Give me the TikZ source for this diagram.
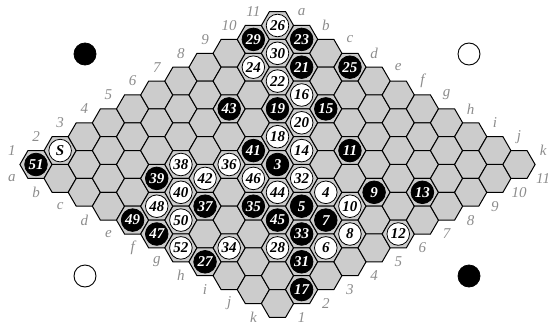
\documentclass[tikz,border=0pt]{standalone}
\usepackage{fontspec}
\setmainfont{Liberation Serif}
\usetikzlibrary{calc}
\definecolor{cellgray}{RGB}{204,204,204}
\definecolor{labgray}{RGB}{140,140,140}
\tikzset{
  hexcell/.style={fill=cellgray, draw=black, line width=1pt, line join=miter},
  stonebase/.style={circle, draw=black, line width=0.8pt, minimum size=22.6pt, inner sep=0pt,
    font=\fontsize{15}{15}\selectfont\bfseries\itshape},
  bstone/.style={stonebase, fill=black, text=white},
  wstone/.style={stonebase, fill=white, text=black},
  edgelab/.style={text=labgray, font=\fontsize{15}{15}\selectfont\itshape, inner sep=0pt},
  cornerb/.style={circle, fill=black, draw=black, line width=0.8pt, minimum size=22pt, inner sep=0pt},
  cornerw/.style={circle, fill=white, draw=black, line width=0.9pt, minimum size=22pt, inner sep=0pt}
}
\begin{document}
\begin{tikzpicture}[x=1pt,y=-1pt]
\useasboundingbox (0,0) rectangle (548,321);
% cells
\foreach \i in {0,...,10}{
  \foreach \j in {0,...,10}{
    \coordinate (c\i-\j) at ({277.5+24.15*(\i+\j-10)},{164.5+13.9*(\i-\j)});
    \draw[hexcell] (c\i-\j) +(0:16.1pt) -- +(60:16.1pt) -- +(120:16.1pt) -- +(180:16.1pt)
      -- +(240:16.1pt) -- +(300:16.1pt) -- cycle;
  }
}
% edge labels: numbers
\foreach \j in {0,...,10}{
  \pgfmathtruncatemacro{\n}{\j+1}
  \node[edgelab] (nl\j) at ($(c0-\j)+(-24.15,-13.9)$) {\n};
  \node[edgelab] (nr\j) at ($(c10-\j)+(24.15,13.9)$) {\n};
}
% edge labels: letters
\foreach \i/\l in {0/a,1/b,2/c,3/d,4/e,5/f,6/g,7/h,8/i,9/j,10/k}{
  \node[edgelab] (lu\i) at ($(c\i-10)+(24.15,-13.9)$) {\l};
  \node[edgelab] (ld\i) at ($(c\i-0)+(-24.15,13.9)$) {\l};
}
% stones
\foreach \i/\j/\t/\s in {
  0/10/26/wstone, 0/9/29/bstone, 1/10/23/bstone, 1/9/30/wstone, 1/8/24/wstone,
  2/9/21/bstone, 3/10/25/bstone, 2/8/22/wstone, 3/8/16/wstone, 2/6/43/bstone,
  3/7/19/bstone, 4/8/15/bstone, 4/7/20/wstone, 4/6/18/wstone, 4/5/41/bstone,
  5/6/14/wstone, 6/7/11/bstone, 0/1/S/wstone, 0/0/51/bstone, 4/4/36/wstone,
  5/5/3/bstone, 3/3/38/wstone, 3/2/39/bstone, 4/3/42/wstone, 5/4/46/wstone,
  4/2/40/wstone, 4/1/48/wstone, 5/2/37/bstone, 6/3/35/bstone, 4/0/49/bstone,
  5/1/50/wstone, 5/0/47/bstone, 6/0/52/wstone, 7/1/34/wstone, 7/0/27/bstone,
  6/5/32/wstone, 6/4/44/wstone, 7/5/4/wstone, 8/6/9/bstone, 9/7/13/bstone,
  8/5/10/wstone, 7/4/5/bstone, 7/3/45/bstone, 8/4/7/bstone, 8/3/33/bstone,
  9/4/8/wstone, 10/5/12/wstone, 8/2/28/wstone, 9/3/6/wstone, 9/2/31/bstone,
  10/1/17/bstone}{
  \node[\s] (st\t) at (c\i-\j) {\t};
}
% corner markers
\node[cornerb] (tl) at (85,54) {};
\node[cornerw] (tr) at (469,54) {};
\node[cornerw] (bl) at (85,276) {};
\node[cornerb] (br) at (469,276) {};
\end{tikzpicture}
\end{document}
